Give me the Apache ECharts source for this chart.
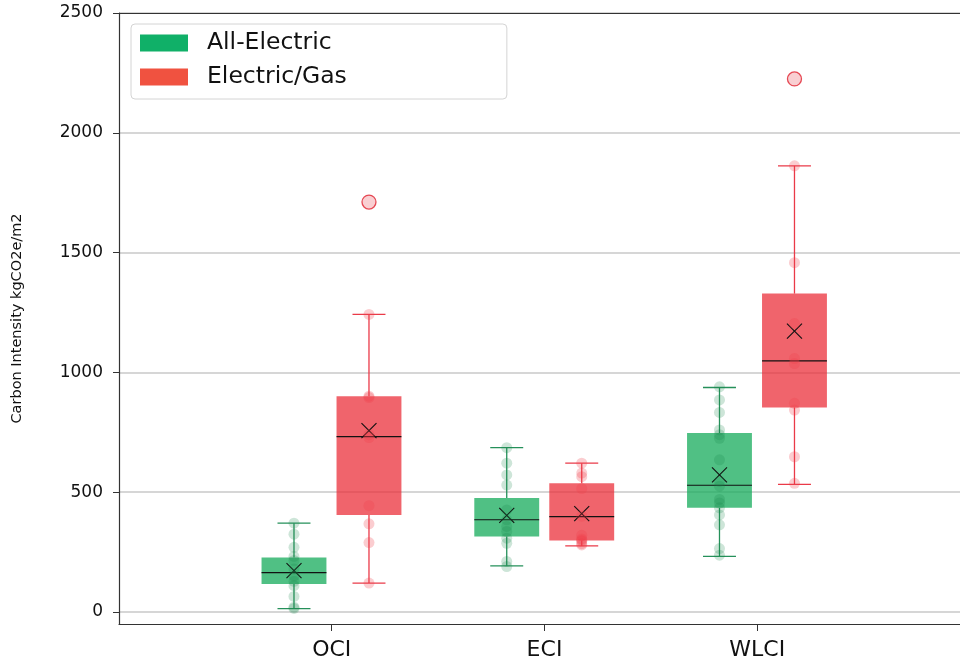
<!DOCTYPE html>
<html><head><meta charset="utf-8">
<script src="https://cdn.jsdelivr.net/npm/echarts@6/dist/echarts.min.js"></script>
<style>html,body{margin:0;padding:0;background:#fff}#c{width:960px;height:664px}</style>
</head><body><div id="c"></div>
<script>
// ---- data ----
const categories = ['OCI', 'ECI', 'WLCI'];
const groups = ['All-Electric', 'Electric/Gas'];
const yTicks = [0, 500, 1000, 1500, 2000, 2500];
// box stats per category: [whiskerLow, q1, median, q3, whiskerHigh, mean]
const elecBoxes = [
  [14, 117, 164, 228, 371, 173],
  [193, 315, 385, 476, 686, 403],
  [232, 435, 529, 747, 937, 572]
];
const gasBoxes = [
  [121, 405, 732, 901, 1242, 757],
  [276, 298, 398, 537, 621, 411],
  [533, 854, 1048, 1329, 1862, 1172]
];
const elecPoints = [
  [371, 325, 270, 232, 215, 180, 150, 128, 110, 65, 20, 15],
  [686, 621, 572, 530, 426, 385, 357, 336, 308, 287, 211, 190],
  [940, 885, 833, 760, 740, 725, 635, 545, 525, 470, 455, 435, 405, 364, 265, 237]
];
const gasPoints = [
  [1242, 901, 895, 740, 728, 444, 368, 290, 121],
  [621, 580, 565, 515, 400, 320, 305, 300, 295, 285, 280],
  [1862, 1458, 1204, 1058, 1037, 871, 843, 648, 537]
];
const elecOutliers = [[], [], []];
const gasOutliers = [[1711], [], [2225]];

// ---- layout / style ----
const OFFSETS = [-0.1775, 0.175];
const BOX_W = 0.305;
const CAP_W = 0.155;
const X_MIN = -1, X_MAX = 2.953;
const FONT = 'DejaVu Sans';
const styles = [
  {legend: '#10b068', fill: 'rgba(22,171,91,0.75)', line: '#25905a', point: 'rgba(25,135,75,0.27)', outFill: 'rgba(150,210,170,1)', outEdge: '#25905a'},
  {legend: '#f05240', fill: 'rgba(235,43,54,0.73)', line: '#ea3a48', point: 'rgba(238,60,72,0.32)', outFill: '#f8c3c7', outEdge: '#e0202e'}
];

function boxRender(gi) {
  const st = styles[gi], off = OFFSETS[gi];
  return function (params, api) {
    const x = api.value(0) + off;
    const lo = api.coord([x, api.value(1)]);
    const q1 = api.coord([x, api.value(2)]);
    const md = api.coord([x, api.value(3)]);
    const q3 = api.coord([x, api.value(4)]);
    const hi = api.coord([x, api.value(5)]);
    const mn = api.coord([x, api.value(6)]);
    const hw = api.size([BOX_W, 0])[0] / 2;
    const ch = api.size([CAP_W, 0])[0] / 2;
    const cx = lo[0];
    const ls = {stroke: st.line, lineWidth: 1.3};
    const k = 7.5;
    return {type: 'group', children: [
      {type: 'line', shape: {x1: cx, y1: q3[1], x2: cx, y2: hi[1]}, style: ls},
      {type: 'line', shape: {x1: cx, y1: q1[1], x2: cx, y2: lo[1]}, style: ls},
      {type: 'line', shape: {x1: cx - ch, y1: hi[1], x2: cx + ch, y2: hi[1]}, style: ls},
      {type: 'line', shape: {x1: cx - ch, y1: lo[1], x2: cx + ch, y2: lo[1]}, style: ls},
      {type: 'rect', shape: {x: cx - hw, y: q3[1], width: 2 * hw, height: q1[1] - q3[1]}, style: {fill: st.fill}},
      {type: 'line', shape: {x1: cx - hw, y1: md[1], x2: cx + hw, y2: md[1]}, style: {stroke: '#111', lineWidth: 1.2}},
      {type: 'line', shape: {x1: mn[0] - k, y1: mn[1] - k, x2: mn[0] + k, y2: mn[1] + k}, style: {stroke: '#111', lineWidth: 1.1}, z2: 10},
      {type: 'line', shape: {x1: mn[0] - k, y1: mn[1] + k, x2: mn[0] + k, y2: mn[1] - k}, style: {stroke: '#111', lineWidth: 1.1}, z2: 10}
    ]};
  };
}

const boxSets = [elecBoxes, gasBoxes];
const pointSets = [elecPoints, gasPoints];
const outlierSets = [elecOutliers, gasOutliers];
const series = [];
groups.forEach((g, gi) => {
  series.push({
    name: g, type: 'custom', z: 2,
    renderItem: boxRender(gi),
    itemStyle: {color: styles[gi].legend},
    encode: {x: 0, y: [1, 2, 3, 4, 5]},
    data: boxSets[gi].map((b, i) => [i].concat(b))
  });
});
groups.forEach((g, gi) => {
  series.push({
    name: g + ' points', type: 'scatter', z: 3, symbolSize: 11,
    itemStyle: {color: styles[gi].point},
    emphasis: {disabled: true},
    data: pointSets[gi].flatMap((arr, i) => arr.map(v => [i + OFFSETS[gi], v]))
  });
  series.push({
    name: g + ' outliers', type: 'scatter', z: 4, symbolSize: 14,
    itemStyle: {color: styles[gi].outFill, borderColor: styles[gi].outEdge, borderWidth: 1.3},
    emphasis: {disabled: true},
    data: outlierSets[gi].flatMap((arr, i) => arr.map(v => [i + OFFSETS[gi], v]))
  });
});

const chart = echarts.init(document.getElementById('c'));
chart.setOption({
  animation: false,
  backgroundColor: '#fff',
  textStyle: {fontFamily: FONT},
  grid: {left: 119, right: 0, top: 13, bottom: 40, containLabel: false},
  legend: {
    orient: 'vertical', left: 131, top: 24, icon: 'rect',
    itemWidth: 48, itemHeight: 17, itemGap: 10,
    padding: [7, 160, 10, 9],
    borderColor: '#d4d4d4', borderWidth: 1, borderRadius: 4,
    selectedMode: false,
    textStyle: {fontFamily: FONT, fontSize: 23.5, color: '#111', lineHeight: 24, padding: [0, 0, 0, 14]},
    data: groups.map((g, gi) => ({name: g, itemStyle: {color: styles[gi].legend}}))
  },
  xAxis: [{
    type: 'value', min: X_MIN, max: X_MAX, position: 'bottom',
    axisLine: {show: true, onZero: false, lineStyle: {color: '#333', width: 1.2}},
    axisTick: {show: true, length: 7, customValues: [0, 1, 2], lineStyle: {color: '#333'}},
    axisLabel: {customValues: [0, 1, 2], formatter: v => categories[v], fontFamily: FONT, fontSize: 22, color: '#111', margin: 15},
    splitLine: {show: false}
  }, {
    type: 'value', min: X_MIN, max: X_MAX, position: 'top',
    axisLine: {show: true, onZero: false, lineStyle: {color: '#333', width: 1.2}},
    axisTick: {show: false}, axisLabel: {show: false}, splitLine: {show: false}
  }],
  yAxis: {
    type: 'value', min: -50, max: 2500,
    axisLine: {show: true, onZero: false, lineStyle: {color: '#333', width: 1.2}},
    axisTick: {show: true, length: 6, customValues: yTicks, lineStyle: {color: '#333'}},
    axisLabel: {customValues: yTicks, formatter: v => String(v), fontFamily: FONT, fontSize: 17, color: '#111', margin: 16},
    splitLine: {show: true, lineStyle: {color: '#c8c8c8', width: 1.5}},
    name: 'Carbon Intensity kgCO2e/m2', nameLocation: 'middle', nameGap: 94,
    nameTextStyle: {fontFamily: FONT, fontSize: 14.5, color: '#111'}
  },
  series: series
});
</script>
</body></html>
